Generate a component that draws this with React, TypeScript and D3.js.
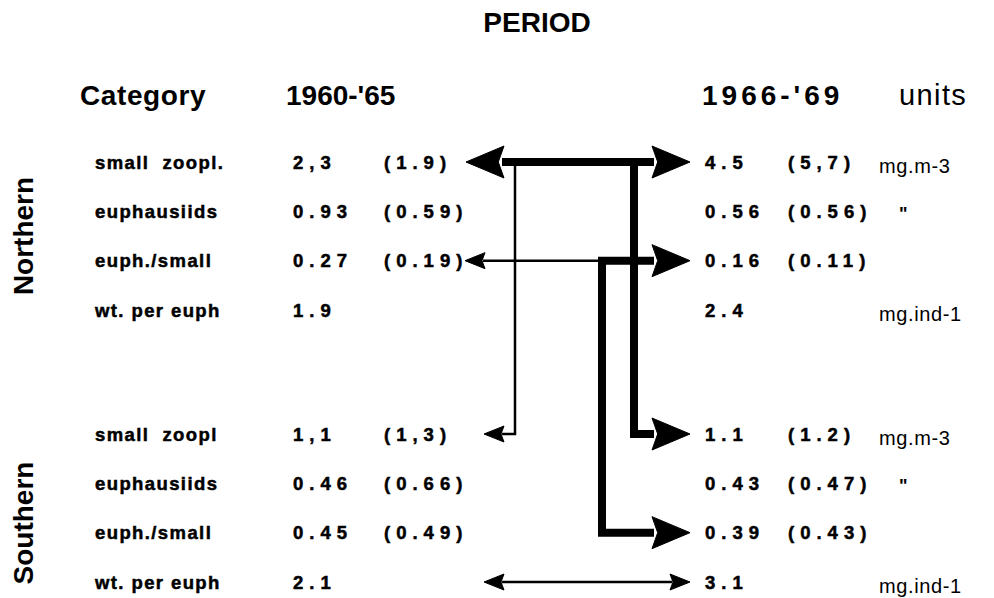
import React from "react";
import * as d3 from "d3";

const title = "PERIOD";
const headerCategory = "Category";
const headerPeriods = ["1960-'65", "1966-'69"];
const headerUnits = "units";
const regions = ["Northern", "Southern"];

const northernCategories = ["small  zoopl.", "euphausiids", "euph./small", "wt. per euph"];
const southernCategories = ["small  zoopl", "euphausiids", "euph./small", "wt. per euph"];

const northern1960 = ["2,3", "0.93", "0.27", "1.9"];
const northern1960Paren = ["(1.9)", "(0.59)", "(0.19)", ""];
const northern1966 = ["4.5", "0.56", "0.16", "2.4"];
const northern1966Paren = ["(5,7)", "(0.56)", "(0.11)", ""];
const northernUnits = ["mg.m-3", "\"", "", "mg.ind-1"];

const southern1960 = ["1,1", "0.46", "0.45", "2.1"];
const southern1960Paren = ["(1,3)", "(0.66)", "(0.49)", ""];
const southern1966 = ["1.1", "0.43", "0.39", "3.1"];
const southern1966Paren = ["(1.2)", "(0.47)", "(0.43)", ""];
const southernUnits = ["mg.m-3", "\"", "", "mg.ind-1"];

const FONT = "'Liberation Sans', Arial, Helvetica, sans-serif";

type Head = { tip: [number, number]; dir: 1 | -1; len: number; half: number };

function headPath(h: Head) {
  const [x, y] = h.tip;
  const bx = x - h.dir * h.len;
  const nx = x - h.dir * h.len * 0.85;
  return d3.line()([
    [x, y],
    [bx, y - h.half],
    [nx, y],
    [bx, y + h.half],
    [x, y],
  ] as [number, number][]) as string;
}

export default function App() {
  const W = 994;
  const H = 598;
  const rowY: Record<string, d3.ScaleLinear<number, number>> = {
    Northern: d3.scaleLinear().domain([0, 3]).range([162, 310]),
    Southern: d3.scaleLinear().domain([0, 3]).range([434, 582]),
  };
  const groupData = [
    {
      name: regions[0],
      cats: northernCategories,
      v1: northern1960,
      p1: northern1960Paren,
      v2: northern1966,
      p2: northern1966Paren,
      u: northernUnits,
      labelY: 236,
    },
    {
      name: regions[1],
      cats: southernCategories,
      v1: southern1960,
      p1: southern1960Paren,
      v2: southern1966,
      p2: southern1966Paren,
      u: southernUnits,
      labelY: 523,
    },
  ];

  const col = { cat: 95, v1: 293, p1: 384, v2: 705, p2: 788, u: 879 };
  const lane = { thinL: 515, thickM: 602, thickR: 634 };
  const tipL = 466;
  const tipLThin = 484;
  const tipR = 690;
  const THICK = 8;
  const THIN = 2.5;
  const thickHead = { len: 38, half: 16 };
  const thinHead = { len: 20, half: 8 };

  const yN0 = rowY.Northern(0);
  const yN2 = rowY.Northern(2);
  const yS0 = rowY.Southern(0);
  const yS2 = rowY.Southern(2);
  const yS3 = rowY.Southern(3);

  const line = d3.line();

  const paths: { d: string; w: number }[] = [
    { d: line([[tipL + thickHead.len - 2, yN0], [tipR - thickHead.len + 2, yN0]])!, w: THICK },
    { d: line([[lane.thickR, yN0 - THICK / 2], [lane.thickR, yS0], [tipR - thickHead.len + 2, yS0]])!, w: THICK },
    { d: line([[lane.thinL, yN0], [lane.thinL, yS0], [tipLThin + thinHead.len - 2, yS0]])!, w: THIN },
    { d: line([[lane.thickM, yN2], [465 + thinHead.len - 2, yN2]])!, w: THIN },
    { d: line([[tipR - thickHead.len + 2, yN2], [lane.thickM, yN2], [lane.thickM, yS2], [tipR - thickHead.len + 2, yS2]])!, w: THICK },
    { d: line([[tipLThin + thinHead.len - 2, yS3], [tipR - thinHead.len + 2, yS3]])!, w: THIN },
  ];

  const heads: Head[] = [
    { tip: [tipL, yN0], dir: -1, ...thickHead },
    { tip: [tipR, yN0], dir: 1, ...thickHead },
    { tip: [tipR, yS0], dir: 1, ...thickHead },
    { tip: [tipLThin, yS0], dir: -1, ...thinHead },
    { tip: [465, yN2], dir: -1, ...thinHead },
    { tip: [tipR, yN2], dir: 1, ...thickHead },
    { tip: [tipR, yS2], dir: 1, ...thickHead },
    { tip: [tipLThin, yS3], dir: -1, ...thinHead },
    { tip: [tipR, yS3], dir: 1, ...thinHead },
  ];

  const catSize = 18.5;
  const valSize = 18.5;
  const base = (y: number, fs: number) => y + 0.36 * fs;
  const bold = { fontWeight: "bold" as const, stroke: "#000", strokeWidth: 0.5 };

  return (
    <svg
      width={W}
      height={H}
      viewBox={`0 0 ${W} ${H}`}
      style={{ position: "absolute", left: 0, top: 0, background: "#fff" }}
      fontFamily={FONT}
    >
      <rect x={0} y={0} width={W} height={H} fill="#fff" />
      <text x={537} y={32} textAnchor="middle" fontSize={28} fontWeight="bold">
        {title}
      </text>
      <text x={80} y={105} fontSize={28} fontWeight="bold" letterSpacing={0.6}>
        {headerCategory}
      </text>
      <text x={286} y={105} fontSize={28} fontWeight="bold">
        {headerPeriods[0]}
      </text>
      <text x={702} y={105} fontSize={28} fontWeight="bold" letterSpacing={4}>
        {headerPeriods[1]}
      </text>
      <text x={899} y={105} fontSize={29} letterSpacing={1.4}>
        {headerUnits}
      </text>

      {groupData.map((g) => {
        const ys = rowY[g.name];
        return (
          <g key={g.name}>
            <text
              transform={`translate(33,${g.labelY}) rotate(-90)`}
              textAnchor="middle"
              fontSize={28}
              fontWeight="bold"
            >
              {g.name}
            </text>
            {g.cats.map((c, i) => (
              <g key={i}>
                <text
                  x={col.cat}
                  y={base(ys(i), catSize)}
                  fontSize={catSize}
                  {...bold}
                  letterSpacing={1.4}
                  style={{ whiteSpace: "pre" }}
                >
                  {c}
                </text>
                <text x={col.v1} y={base(ys(i), valSize)} fontSize={valSize} {...bold} letterSpacing={6}>
                  {g.v1[i]}
                </text>
                <text x={col.p1} y={base(ys(i), valSize)} fontSize={valSize} {...bold} letterSpacing={6}>
                  {g.p1[i]}
                </text>
                <text x={col.v2} y={base(ys(i), valSize)} fontSize={valSize} {...bold} letterSpacing={6}>
                  {g.v2[i]}
                </text>
                <text x={col.p2} y={base(ys(i), valSize)} fontSize={valSize} {...bold} letterSpacing={6}>
                  {g.p2[i]}
                </text>
                {g.u[i] === "\"" ? (
                  <text x={col.u + 20} y={base(ys(i), 18) + 2} fontSize={18} fontWeight="bold">
                    {g.u[i]}
                  </text>
                ) : (
                  <text x={col.u} y={base(ys(i), 20) + 4} fontSize={20} letterSpacing={0.6}>
                    {g.u[i]}
                  </text>
                )}
              </g>
            ))}
          </g>
        );
      })}

      {paths.map((p, i) => (
        <path key={i} d={p.d} fill="none" stroke="#000" strokeWidth={p.w} strokeLinejoin="miter" strokeLinecap="butt" />
      ))}
      {heads.map((h, i) => (
        <path key={i} d={headPath(h)} fill="#000" stroke="#000" strokeWidth={1} />
      ))}
    </svg>
  );
}
